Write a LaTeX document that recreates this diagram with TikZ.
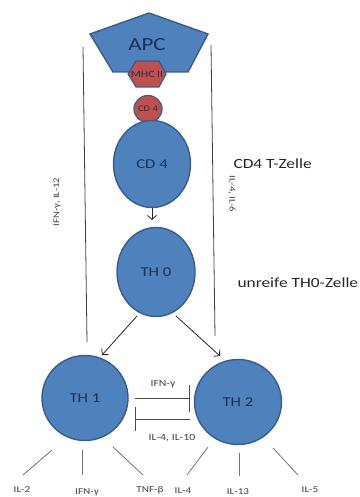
\documentclass[tikz,border=0pt]{standalone}
\usepackage{fontspec}
\setmainfont{Carlito}[FakeStretch=1.24]
\usetikzlibrary{shapes.geometric,arrows.meta}
\definecolor{cellblue}{HTML}{4F81BD}
\definecolor{celledge}{HTML}{385D8A}
\definecolor{cellred}{HTML}{C0504D}
\definecolor{navy}{HTML}{17325A}
\definecolor{lbl}{HTML}{404040}
\begin{document}
\begin{tikzpicture}[x=1pt,y=-1pt,
  cell/.style={ellipse,draw=celledge,fill=cellblue,line width=1.4pt,inner sep=0pt,text=navy},
  bluepoly/.style={draw=celledge,fill=cellblue,line width=1.4pt},
  redpoly/.style={draw=celledge,fill=cellred,line width=1.2pt},
  longline/.style={draw=black!75,line width=0.8pt},
  thinline/.style={draw=black!55,line width=0.8pt},
  arr/.style={draw=black!85,line width=0.8pt,-{Straight Barb[length=4pt,width=9pt]}},
  inh/.style={draw=black!70,line width=0.9pt,-{Bar[width=#1,line width=0.9pt]}},
  small/.style={font=\fontsize{9}{10}\selectfont,text=lbl},
  side/.style={font=\fontsize{14}{16}\selectfont,text=black!85,anchor=west}]
\useasboundingbox (0,0) rectangle (359,497);

% long vertical lines
\coordinate (l1a) at (83,47);  \coordinate (l1b) at (87,342);
\coordinate (l2a) at (211,45); \coordinate (l2b) at (215,336);
\draw[longline] (l1a) -- (l1b);
\draw[longline] (l2a) -- (l2b);

% APC pentagon
\draw[bluepoly] (149,13) -- (208,34) -- (188,72) -- (113,72) -- (90,34) -- cycle;
\node[text=navy,font=\fontsize{18.5}{20}\selectfont] (apc) at (147,45) {APC};

% MHC II hexagon
\draw[redpoly] (128,74) -- (136,61) -- (159,61) -- (166,74) -- (159,87) -- (136,87) -- cycle;
\node[text=navy,font=\fontsize{9.5}{10}\selectfont] (mhc) at (147,74) {MHC II};

% small CD4
\node[cell,fill=cellred,minimum size=27pt,line width=1.2pt,font=\fontsize{8.5}{9}\selectfont] (cd4s) at (148,109) {CD 4};

% cells
\node[cell,minimum width=77pt,minimum height=87pt,font=\fontsize{13.5}{15}\selectfont] (cd4) at (152,164) {CD 4};
\node[cell,minimum width=78pt,minimum height=89pt,font=\fontsize{13.5}{15}\selectfont] (th0) at (156,272) {TH 0};
\node[cell,minimum width=86pt,minimum height=85pt,font=\fontsize{13.5}{15}\selectfont] (th1) at (85,398) {TH 1};
\node[cell,minimum width=87pt,minimum height=85pt,font=\fontsize{13.5}{15}\selectfont] (th2) at (238,402) {TH 2};

% arrows
\coordinate (c4tip) at (152,220);
\draw[arr] (cd4.south) -- (c4tip);
\coordinate (t0l) at (137,316); \coordinate (t1tip) at (102,355);
\coordinate (t0r) at (176,316); \coordinate (t2tip) at (220,356);
\draw[arr] (t0l) -- (t1tip);
\draw[arr] (t0r) -- (t2tip);

% inhibition
\coordinate (ia) at (135,398); \coordinate (ib) at (190,398);
\coordinate (ic) at (190,419); \coordinate (id) at (135,419);
\draw[inh=27pt] (ia) -- (ib);
\draw[inh=24pt] (ic) -- (id);
\node[small,font=\fontsize{9.5}{10}\selectfont] (lifn) at (163,384) {IFN-γ};
\node[small,font=\fontsize{9.5}{10}\selectfont] (lil) at (172,438) {IL-4, IL-10};

% side labels
\node[side] (ct) at (230,164) {CD4 T-Zelle};
\node[side] (ut) at (234,283) {unreife TH0-Zelle};
\node[small,font=\fontsize{8.6}{9}\selectfont,rotate=90] (rl) at (57,202) {IFN-γ, IL-12};
\node[small,font=\fontsize{8.6}{9}\selectfont,rotate=-90] (rr) at (232,194) {IL-4, IL-6};

% cytokine lines TH1
\coordinate (a1) at (52,450);  \coordinate (a2) at (23,475);
\coordinate (b1) at (82,450);  \coordinate (b2) at (82,475);
\coordinate (c1) at (113,447); \coordinate (c2) at (143,475);
\draw[thinline] (a1) -- (a2);
\draw[thinline] (b1) -- (b2);
\draw[thinline] (c1) -- (c2);
% cytokine lines TH2
\coordinate (d1) at (208,447); \coordinate (d2) at (187,475);
\coordinate (e1) at (239,453); \coordinate (e2) at (239,476);
\coordinate (f1) at (273,448); \coordinate (f2) at (298,475);
\draw[thinline] (d1) -- (d2);
\draw[thinline] (e1) -- (e2);
\draw[thinline] (f1) -- (f2);

% cytokine labels
\node[small] (k1) at (22,490) {IL-2};
\node[small] (k2) at (87,492) {IFN-γ};
\node[small] (k3) at (150,490) {TNF-β};
\node[small] (k4) at (183,491) {IL-4};
\node[small] (k5) at (238,491.5) {IL-13};
\node[small] (k6) at (310,490) {IL-5};
\end{tikzpicture}
\end{document}
